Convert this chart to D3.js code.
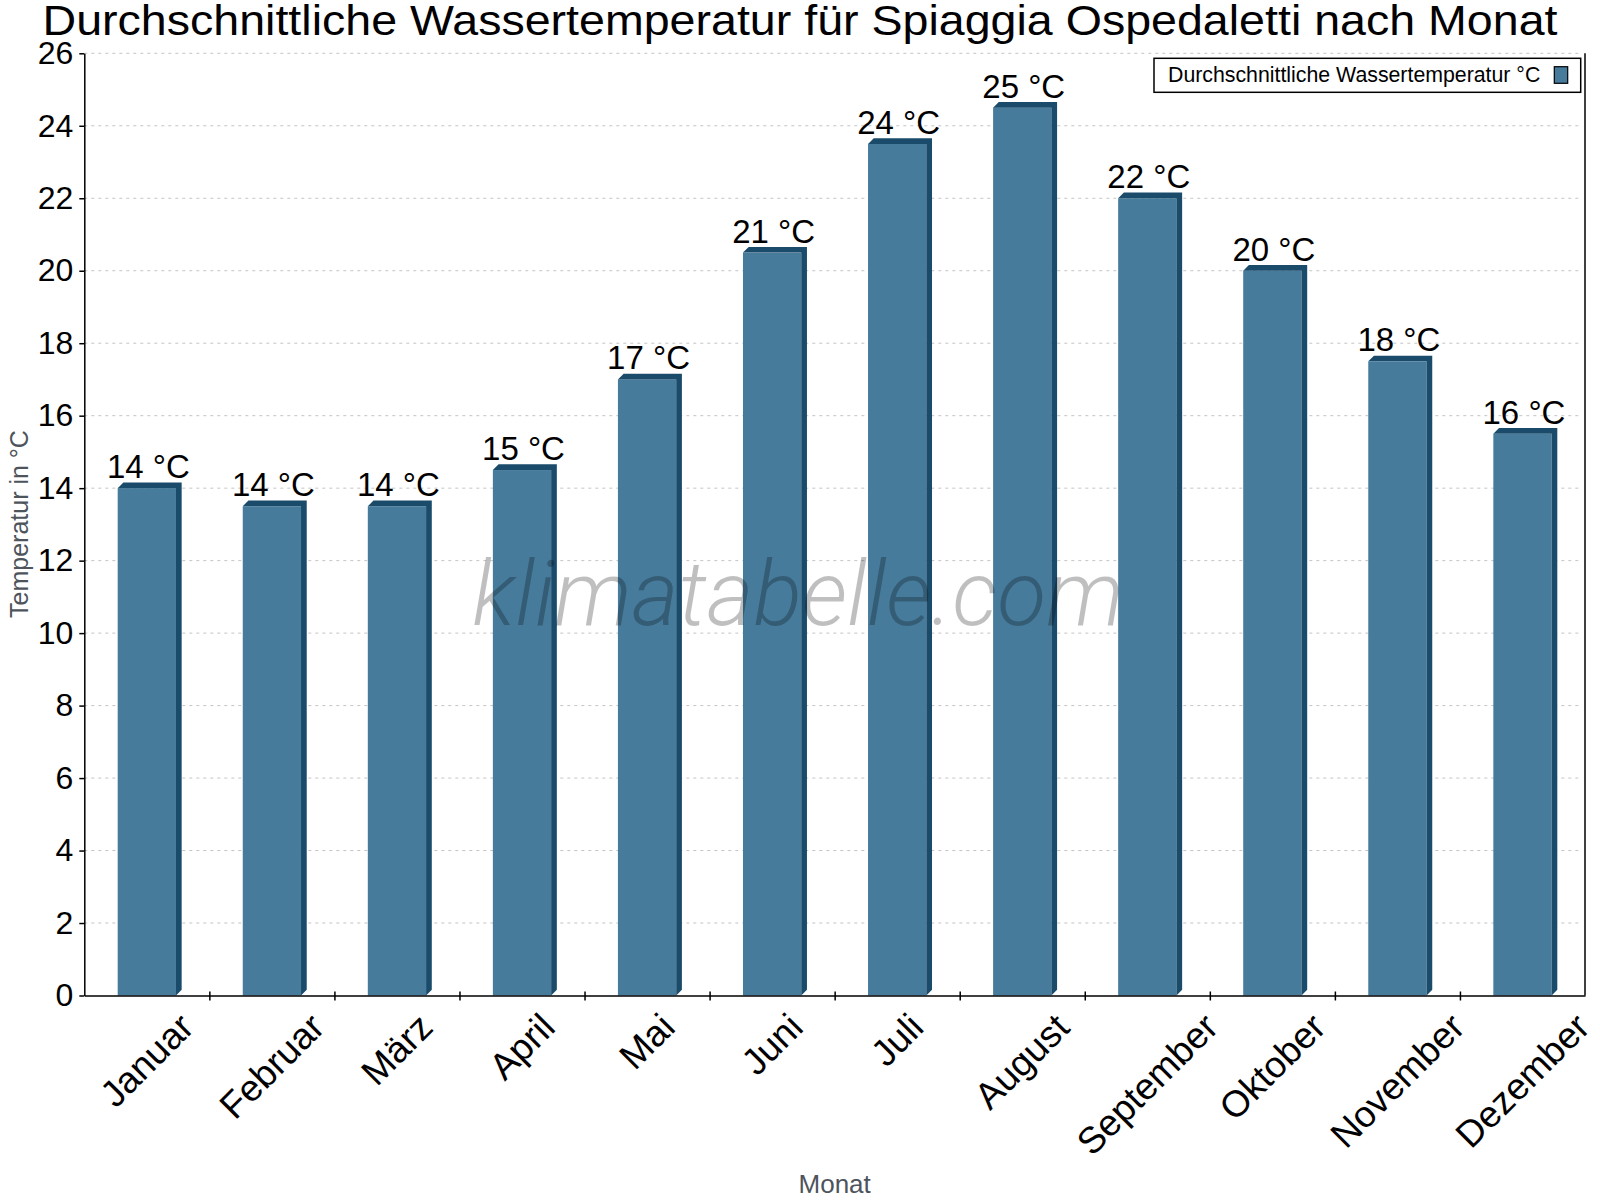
<!DOCTYPE html>
<html lang="de">
<head>
  <meta charset="UTF-8">
  <title>Durchschnittliche Wassertemperatur</title>
  <style>
    body { margin: 0; background: #fff; }
    svg { display: block; font-family: "Liberation Sans", Arial, sans-serif; }
    .grid line { stroke: #c4c4c4; stroke-dasharray: 3 4; }
    .axis path, .axis line { stroke: #000; stroke-width: 1.5; }
    .axis text { font-size: 32px; fill: #000; }
    .val { font-size: 33px; text-anchor: middle; }
    .axis-title { fill: #4d545c; text-anchor: middle; }
  </style>
</head>
<body>
  <div id="chart"></div>

  <script src="https://d3js.org/d3.v7.min.js"></script>
  <script>
    // data
    const months = ["Januar", "Februar", "März", "April", "Mai", "Juni",
                    "Juli", "August", "September", "Oktober", "November", "Dezember"];
    const waterTemp = [14, 13.5, 13.5, 14.5, 17, 20.5, 23.5, 24.5, 22, 20, 17.5, 15.5];
    const yTicks = [0, 2, 4, 6, 8, 10, 12, 14, 16, 18, 20, 22, 24, 26];

    const W = 1600, H = 1200;
    const plot = { left: 84.3, right: 1585, top: 53.3, bottom: 995.5 };
    const depth = 5.7;            // 3d offset of the bars
    const front = "#467b9c", dark = "#1a4b6b";

    const svg = d3.select("#chart").append("svg")
      .attr("width", W).attr("height", H);

    const x = d3.scaleBand()
      .domain(months)
      .range([plot.left, plot.right])
      .padding(0);

    const y = d3.scaleLinear()
      .domain([0, 26])
      .range([plot.bottom, plot.top]);

    const barW = x.bandwidth() * 0.466;

    // gridlines
    svg.append("g").attr("class", "grid")
      .selectAll("line")
      .data(yTicks.filter(d => d > 0))
      .join("line")
      .attr("x1", plot.left).attr("x2", plot.right - 4)
      .attr("y1", d => y(d)).attr("y2", d => y(d));

    // bars (front face + top + side)
    const bars = svg.append("g").selectAll("g")
      .data(months.map((m, i) => ({ m, v: waterTemp[i] })))
      .join("g");

    const x0 = d => x(d.m) + (x.bandwidth() - barW) / 2;

    bars.append("rect")
      .attr("x", x0)
      .attr("y", d => y(d.v))
      .attr("width", barW)
      .attr("height", d => y(0) - y(d.v))
      .attr("fill", front);

    bars.append("path")
      .attr("fill", dark)
      .attr("d", d => {
        const a = x0(d), b = a + barW, t = y(d.v), z = y(0);
        return `M${a},${t}L${a + depth},${t - depth}L${b + depth},${t - depth}L${b + depth},${z - depth}L${b},${z}L${b},${t}Z`;
      });

    // value labels
    bars.append("text")
      .attr("class", "val")
      .attr("x", d => x(d.m) + x.bandwidth() / 2 + 1.5)
      .attr("y", d => y(d.v) - 10)
      .text(d => `${Math.round(d.v)} °C`);

    // watermark, over the bars
    svg.append("text")
      .attr("x", 798).attr("y", 625)
      .attr("text-anchor", "middle")
      .style("font-family", "Roboto, sans-serif")
      .style("font-style", "italic")
      .style("font-weight", 300)
      .style("font-size", "90px")
      .attr("fill", "#000")
      .attr("fill-opacity", 0.25)
      .text("klimatabelle.com");

    // y axis
    svg.append("g").attr("class", "axis")
      .attr("transform", `translate(${plot.left},0)`)
      .call(d3.axisLeft(y).tickValues(yTicks).tickSize(5).tickSizeOuter(0).tickPadding(6));

    // x axis: ticks on category boundaries
    const xb = d3.scaleLinear().domain([0, months.length]).range([plot.left, plot.right]);
    const xAxis = svg.append("g").attr("class", "axis")
      .attr("transform", `translate(0,${plot.bottom})`)
      .call(d3.axisBottom(xb).tickValues(d3.range(1, months.length))
        .tickSize(5).tickSizeOuter(0).tickFormat(""));
    xAxis.selectAll(".tick line").attr("y1", -4);

    // right border
    svg.append("line")
      .attr("x1", plot.right).attr("x2", plot.right)
      .attr("y1", plot.top).attr("y2", plot.bottom)
      .attr("stroke", "#000").attr("stroke-width", 1.5);

    // rotated month labels, bbox top at fixed y, centred on the band
    const labTop = 1006;
    months.forEach(m => {
      const g = svg.append("g").attr("class", "axis");
      g.append("text")
        .attr("text-anchor", "middle")
        .attr("dy", "0.35em")
        .attr("transform", "rotate(-45)")
        .style("font-size", "37px")
        .text(m);
      const bb = g.node().getBBox();
      const cx = x(m) + x.bandwidth() / 2;
      g.attr("transform", `translate(${cx - (bb.x + bb.width / 2)},${labTop - bb.y})`);
    });

    // axis titles
    svg.append("text").attr("class", "axis-title")
      .attr("transform", "translate(28,524) rotate(-90)")
      .style("font-size", "25px")
      .text("Temperatur in °C");

    svg.append("text").attr("class", "axis-title")
      .attr("x", (plot.left + plot.right) / 2).attr("y", 1193)
      .style("font-size", "26px")
      .text("Monat");

    // title
    svg.append("text")
      .attr("x", 800).attr("y", 35)
      .attr("text-anchor", "middle")
      .attr("textLength", 1515)
      .attr("lengthAdjust", "spacingAndGlyphs")
      .style("font-size", "42px")
      .text("Durchschnittliche Wassertemperatur für Spiaggia Ospedaletti nach Monat");

    // legend
    const leg = svg.append("g");
    leg.append("rect")
      .attr("x", 1154).attr("y", 58.3).attr("width", 426.7).attr("height", 34)
      .attr("fill", "#fff").attr("stroke", "#000").attr("stroke-width", 1.5);
    leg.append("text")
      .attr("x", 1168).attr("y", 82.3)
      .style("font-size", "21.3px")
      .text("Durchschnittliche Wassertemperatur °C");
    leg.append("rect")
      .attr("x", 1554.3).attr("y", 66.7).attr("width", 13.4).attr("height", 16.6)
      .attr("fill", front).attr("stroke", "#000").attr("stroke-width", 1.2);
  </script>
</body>
</html>
